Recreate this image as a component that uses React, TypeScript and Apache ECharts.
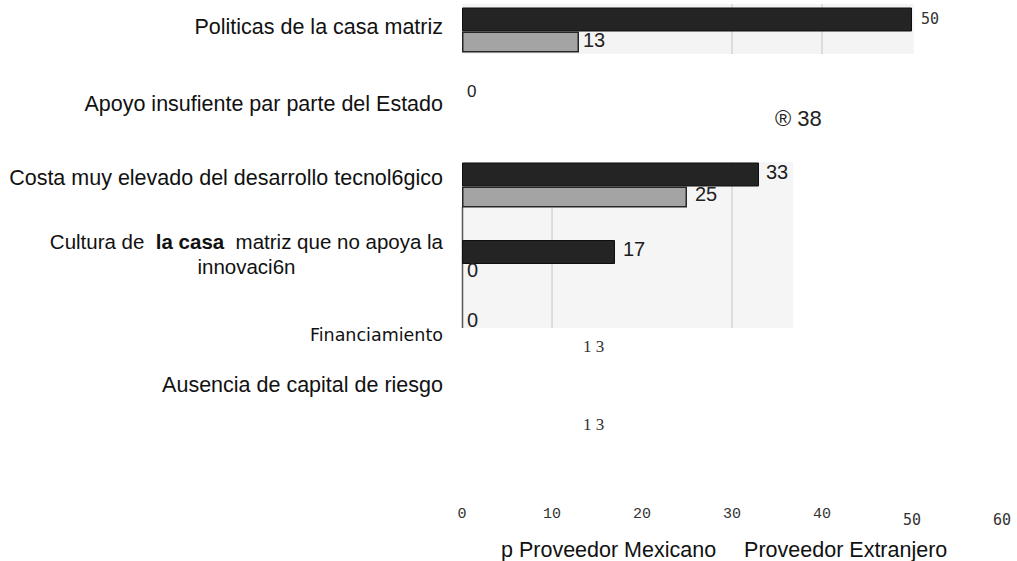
import React, { useEffect, useRef } from 'react';
import * as echarts from 'echarts';

const categories = [
  'Politicas de la casa matriz',
  'Apoyo insufiente par parte del Estado',
  'Costa muy elevado del desarrollo tecnol6gico',
  'Cultura de la casa matriz que no apoya la innovaci6n',
  'Financiamiento',
  'Ausencia de capital de riesgo',
];
const seriesNames = ['Proveedor Mexicano', 'Proveedor Extranjero'];
const extranjero = [50, 38, 33, 17, 13, 13];
const mexicano = [13, 0, 25, 0, 0, 0];
const xTicks = [0, 10, 20, 30, 40, 50, 60];

// indices whose bar is not visible in the scanned reference
const hiddenExt = [1, 4, 5];

const SANS = 'Liberation Sans, Arial, sans-serif';

const extLabelStyles: any[] = [
  { fontFamily: 'DejaVu Sans Mono', fontSize: 15, color: '#333', distance: 9, offset: [0, -1] },
  { fontFamily: SANS, fontSize: 22, color: '#222', distance: 0, offset: [-29, 21.5], prefix: '® ' },
  { fontFamily: SANS, fontSize: 20, color: '#1c1c1c', distance: 7, offset: [0, -2.5] },
  { fontFamily: SANS, fontSize: 20, color: '#1c1c1c', distance: 8, offset: [0, -3.5] },
  { fontFamily: 'Liberation Serif', fontSize: 17, color: '#333', distance: 4, offset: [0, 16.5], spaced: true },
  { fontFamily: 'Liberation Serif', fontSize: 17, color: '#333', distance: 4, offset: [0, 17.5], spaced: true },
];
const mexLabelStyles: any[] = [
  { fontFamily: SANS, fontSize: 20, color: '#222', distance: 4, offset: [0, -2] },
  { fontFamily: SANS, fontSize: 17, color: '#222', distance: 5, offset: [0, -28.5] },
  { fontFamily: SANS, fontSize: 20, color: '#222', distance: 8, offset: [0, -3] },
  { fontFamily: SANS, fontSize: 20, color: '#222', distance: 5, offset: [0, -4.5] },
  { fontFamily: SANS, fontSize: 20, color: '#222', distance: 5, offset: [0, -32] },
  null,
];

function labelFor(st: any) {
  if (!st) return { show: false };
  return {
    show: true,
    position: 'right',
    distance: st.distance,
    offset: st.offset,
    fontFamily: st.fontFamily,
    fontSize: st.fontSize,
    color: st.color,
    formatter: (p: any) => {
      const s = String(p.value);
      return (st.prefix || '') + (st.spaced ? s.split('').join(' ') : s);
    },
  };
}

function yLabel(value: string, index: number) {
  if (index === 3) {
    const words = value.split(' ');
    const last = words.pop();
    const line1 = words.join(' ').replace('de la casa matriz', 'de  }{cub|la casa}{cu|  matriz');
    return `{cu|${line1}}\n{cu2|${last}}`;
  }
  return `{r${index}|${value}}`;
}

export default function App() {
  const ref = useRef<HTMLDivElement>(null);
  useEffect(() => {
    if (!ref.current) return;
    const chart = echarts.init(ref.current, undefined, { renderer: 'svg' });
    const option: any = {
      animation: false,
      backgroundColor: '#ffffff',
      grid: { left: 462, width: 540, top: -8.75, height: 465, containLabel: false, outerBoundsMode: 'none' },
      legend: {
        data: seriesNames,
        left: 495,
        top: 539,
        padding: 0,
        itemWidth: 0,
        itemHeight: 0,
        itemGap: 22,
        icon: 'rect',
        itemStyle: { opacity: 0 },
        formatter: (name: string) => (name === seriesNames[0] ? 'p ' + name : name),
        textStyle: { fontFamily: SANS, fontSize: 21.5, color: '#111' },
      },
      xAxis: {
        type: 'value',
        min: xTicks[0],
        max: xTicks[xTicks.length - 1],
        interval: xTicks[1] - xTicks[0],
        axisLine: { show: false },
        axisTick: { show: false },
        splitLine: { show: false },
        axisLabel: {
          margin: 51,
          formatter: (v: number) => (v >= 50 ? `{b|${v}}` : `{a|${v}}`),
          rich: {
            a: { fontFamily: 'Liberation Mono', fontSize: 15, color: '#333' },
            b: { fontFamily: 'DejaVu Sans Mono', fontSize: 15, color: '#333', padding: [5, 0, 0, 0] },
          },
        },
      },
      yAxis: {
        type: 'category',
        data: categories,
        inverse: true,
        axisLine: { show: false },
        axisTick: { show: false },
        splitLine: { show: false },
        axisLabel: {
          interval: 0,
          margin: 19,
          color: '#111',
          fontFamily: SANS,
          formatter: yLabel,
          rich: {
            r0: { fontFamily: SANS, fontSize: 21.5, color: '#111', padding: [0, 0, 6, 0] },
            r1: { fontFamily: SANS, fontSize: 21.5, color: '#111', padding: [0, 0, 8, 0] },
            r2: { fontFamily: SANS, fontSize: 21.5, color: '#111', padding: [0, 0, 15, 0] },
            cu: { fontFamily: SANS, fontSize: 20.5, color: '#111', lineHeight: 25, padding: [0, 0, 17, 0] },
            cub: { fontFamily: SANS, fontSize: 20.5, fontWeight: 'bold', color: '#111', lineHeight: 25, padding: [0, 0, 17, 0] },
            cu2: { fontFamily: SANS, fontSize: 20.5, color: '#111', lineHeight: 25, padding: [0, 0, 17, 0], width: 393, align: 'center' },
            r4: { fontFamily: 'DejaVu Sans', fontSize: 17.5, color: '#111', padding: [0, 0, 11, 0] },
            r5: { fontFamily: SANS, fontSize: 21.5, color: '#111', padding: [0, 0, 66, 0] },
          },
        },
      },
      series: [
        {
          name: seriesNames[1],
          type: 'bar',
          barWidth: 24,
          barGap: '0%',
          z: 3,
          itemStyle: { color: '#242424', borderColor: '#0e0e0e', borderWidth: 1 },
          data: extranjero.map((v, i) => ({
            value: v,
            itemStyle: hiddenExt.includes(i) ? { color: 'rgba(0,0,0,0)', borderWidth: 0 } : undefined,
            label: labelFor(extLabelStyles[i]),
          })),
        },
        {
          name: seriesNames[0],
          type: 'bar',
          barWidth: 21,
          barGap: '0%',
          z: 3,
          itemStyle: { color: '#a4a4a4', borderColor: '#262626', borderWidth: 1.5 },
          data: mexicano.map((v, i) => ({
            value: v,
            itemStyle: v === 0 ? { borderWidth: 0 } : undefined,
            label: labelFor(mexLabelStyles[i]),
          })),
        },
      ],
    };
    chart.setOption(option);

    const px = (v: number) => chart.convertToPixel({ xAxisIndex: 0 }, v) as number;
    const x0 = px(0);
    const panelLine = (v: number, y1: number, y2: number) => ({
      type: 'line',
      z: 1,
      shape: { x1: px(v), y1, x2: px(v), y2 },
      style: { stroke: '#c6c6c6', lineWidth: 1 },
    });
    chart.setOption({
      graphic: [
        { type: 'rect', z: 0, shape: { x: x0, y: 4, width: px(50.2) - x0, height: 50 }, style: { fill: '#f4f4f4' } },
        panelLine(30, 4, 54),
        panelLine(40, 4, 54),
        { type: 'rect', z: 0, shape: { x: x0, y: 162, width: px(36.8) - x0, height: 166 }, style: { fill: '#f5f5f5' } },
        panelLine(10, 162, 328),
        panelLine(30, 162, 328),
        { type: 'line', z: 1, shape: { x1: x0 + 0.5, y1: 207, x2: x0 + 0.5, y2: 328 }, style: { stroke: '#555', lineWidth: 1.5 } },
      ],
    });

    return () => chart.dispose();
  }, []);
  return <div ref={ref} style={{ position: 'absolute', left: 0, top: 0, width: 1017, height: 561 }} />;
}
